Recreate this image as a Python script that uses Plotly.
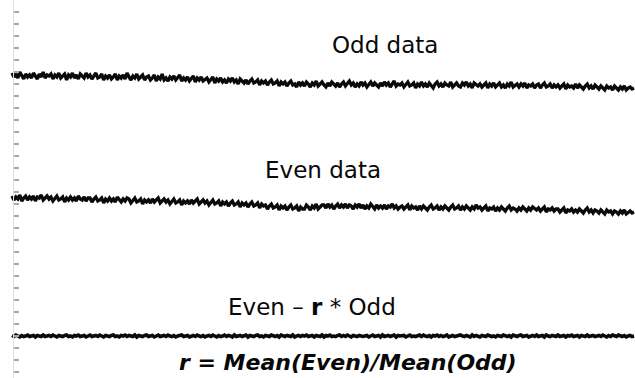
import plotly.graph_objects as go

# Signal traces (arbitrary units), sample index along x
odd_data = [
    263, 259, 262, 258, 264, 260, 257, 262, 259, 261,
    258, 263, 260, 257, 262, 259, 264, 258, 261, 260,
    262, 257, 261, 259, 263, 258, 260, 262, 256, 261,
    259, 263, 258, 261, 257, 262, 260, 258, 263, 259,
    261, 257, 260, 263, 258, 259, 262, 256, 260, 258,
    261, 257, 259, 262, 256, 260, 258, 261, 257, 263,
    259, 256, 260, 258, 262, 257, 259, 261, 256, 259,
    260, 256, 258, 261, 255, 259, 257, 262, 256, 258,
    255, 259, 257, 260, 256, 258, 261, 255, 258, 256,
    259, 255, 257, 260, 254, 258, 256, 259, 255, 257,
    258, 254, 256, 259, 253, 257, 255, 258, 254, 256,
    253, 257, 255, 258, 254, 256, 252, 257, 255, 253,
    256, 252, 255, 257, 253, 254, 256, 251, 255, 253,
    255, 251, 254, 256, 252, 253, 255, 250, 254, 252,
    254, 250, 253, 255, 251, 252, 249, 254, 251, 253,
    250, 254, 252, 249, 253, 251, 255, 250, 252, 254,
    251, 249, 253, 250, 254, 252, 250, 253, 249, 252,
    254, 250, 252, 255, 251, 253, 249, 252, 250, 254,
    251, 253, 249, 252, 254, 250, 253, 251, 249, 253,
    250, 254, 251, 253, 249, 252, 255, 250, 252, 251,
    253, 249, 252, 254, 250, 251, 253, 248, 252, 250,
    254, 250, 252, 249, 253, 251, 248, 252, 254, 250,
    252, 249, 253, 251, 250, 254, 249, 251, 253, 250,
    249, 253, 251, 254, 250, 252, 248, 253, 251, 250,
    252, 249, 251, 253, 248, 252, 250, 253, 249, 251,
    253, 249, 251, 248, 252, 250, 254, 249, 251, 252,
    249, 252, 250, 253, 248, 251, 250, 252, 248, 251,
    252, 248, 251, 253, 249, 250, 252, 248, 251, 249,
    251, 248, 250, 252, 247, 251, 249, 250, 248, 252,
    248, 251, 249, 247, 250, 252, 248, 250, 247, 251,
    249, 247, 250, 248, 246, 250, 248, 249, 246, 250,
    248, 246, 249, 247, 250, 246, 248, 249, 247, 248,
]

even_data = [
    140, 136, 139, 137, 141, 135, 138, 140, 136, 139,
    137, 140, 135, 139, 138, 141, 136, 138, 140, 137,
    139, 135, 138, 140, 136, 137, 139, 134, 138, 136,
    139, 136, 138, 135, 140, 137, 136, 139, 135, 138,
    138, 134, 137, 139, 135, 136, 138, 133, 137, 135,
    138, 135, 137, 134, 139, 136, 134, 137, 135, 138,
    137, 133, 136, 138, 134, 135, 137, 132, 136, 134,
    136, 133, 137, 134, 136, 138, 133, 135, 137, 134,
    136, 132, 135, 137, 133, 134, 136, 131, 135, 133,
    135, 132, 136, 133, 135, 137, 132, 134, 136, 133,
    135, 131, 134, 136, 132, 133, 135, 130, 134, 132,
    134, 130, 133, 135, 131, 132, 134, 129, 133, 131,
    133, 129, 132, 134, 130, 131, 133, 128, 132, 130,
    131, 127, 130, 132, 128, 129, 131, 126, 130, 128,
    130, 126, 129, 131, 127, 128, 130, 125, 129, 127,
    127, 131, 129, 126, 130, 128, 132, 127, 129, 131,
    131, 128, 132, 129, 131, 127, 130, 132, 128, 131,
    129, 132, 128, 131, 130, 127, 131, 129, 132, 128,
    131, 127, 130, 128, 132, 129, 127, 131, 128, 130,
    128, 131, 127, 130, 129, 132, 128, 130, 127, 129,
    130, 127, 129, 131, 126, 130, 128, 129, 126, 130,
    127, 130, 128, 126, 129, 131, 127, 128, 130, 126,
    129, 127, 130, 128, 126, 129, 131, 127, 128, 130,
    126, 129, 127, 130, 128, 126, 129, 127, 131, 128,
    129, 126, 128, 130, 125, 128, 127, 129, 125, 128,
    126, 129, 127, 125, 128, 130, 126, 128, 127, 125,
    128, 126, 129, 127, 125, 128, 126, 129, 127, 126,
    128, 125, 127, 129, 124, 127, 126, 128, 125, 127,
    127, 124, 126, 128, 123, 126, 125, 127, 124, 126,
    124, 127, 125, 123, 126, 128, 124, 126, 123, 126,
    125, 123, 126, 124, 122, 126, 124, 125, 122, 125,
    124, 122, 125, 123, 126, 122, 124, 125, 123, 124,
]

difference = [
    0.5, -0.5, 1, 0, -1, 0.5, -0.5, 0, 1, -0.5,
    0, 0.5, -1, 0.5, 0, -0.5, 1, -0.5, 0, 0.5,
    -0.5, 1, 0, -1, 0.5, 0, -0.5, 0.5, 1, -0.5,
    0, -1, 0.5, 0, 1, -0.5, 0, 0.5, -1, 0.5,
    1, -0.5, 0, 0.5, -0.5, 1, 0, -1, 0.5, 0,
    -0.5, 0.5, 1, -0.5, 0, -1, 0.5, 0, 1, -0.5,
    0.5, 0, -0.5, 1, -1, 0.5, 0, -0.5, 0.5, 1,
    -0.5, 0, 0.5, -1, 0.5, 1, -0.5, 0, 0.5, -0.5,
    1, 0, -0.5, 0.5, -1, 0, 0.5, 1, -0.5, 0,
    0.5, -1, 0, 0.5, -0.5, 1, 0, -0.5, 0.5, -1,
    0, 0.5, -0.5, 1, 0, -1, 0.5, -0.5, 0, 1,
    -0.5, 0.5, 0, -1, 1, -0.5, 0, 0.5, -0.5, 0,
    1, -1, 0.5, 0, -0.5, 0.5, 1, -0.5, 0, -1,
    0.5, 0, -0.5, 1, 0, -0.5, 0.5, -1, 1, 0,
    -0.5, 0.5, 0, -0.5, 1, -1, 0, 0.5, -0.5, 0.5,
    0, 1, -0.5, 0, 0.5, -1, 0.5, 0, -0.5, 1,
    -1, 0.5, 0, 1, -0.5, 0, -0.5, 0.5, 1, -0.5,
    0.5, -0.5, 1, 0, -1, 0.5, 0, -0.5, 0.5, 0,
    -0.5, 0, 0.5, -1, 0.5, 1, -0.5, 0, 0.5, -1,
    1, -0.5, 0, 0.5, -0.5, 0, 1, -1, 0.5, 0,
    0, 0.5, -1, 0.5, 1, -0.5, 0, -0.5, 0.5, 1,
    -0.5, 1, 0, -0.5, 0.5, -1, 0.5, 0, 1, -0.5,
    0.5, -0.5, 0, 1, -1, 0, 0.5, -0.5, 0, 0.5,
    1, 0, -0.5, 0.5, 0, -1, 1, -0.5, 0.5, 0,
    -1, 0.5, 0, -0.5, 1, 0.5, -0.5, 0, -1, 0.5,
    0, -0.5, 1, 0, -0.5, 0.5, -1, 1, 0, -0.5,
    0.5, 1, -0.5, 0, 0.5, -1, 0, 0.5, -0.5, 1,
    -0.5, 0, 0.5, -1, 1, 0, -0.5, 0.5, 0, -0.5,
    1, -0.5, 0, 0.5, -1, 0.5, 0, 1, -0.5, 0,
    0.5, -1, 0.5, 0, -0.5, 1, -0.5, 0, 0.5, -0.5,
    0, 0.5, -0.5, 1, 0, -1, 0.5, -0.5, 1, 0,
    -0.5, 1, 0, -0.5, 0.5, -1, 0, 0.5, -0.5, 0,
]

sample = list(range(len(odd_data)))

labels = ["Odd data", "Even data", "Even – <b>r</b> * Odd",
          "<b><i>r = Mean(Even)/Mean(Odd)</i></b>"]

fig = go.Figure()
for series, w in ((odd_data, 3.3), (even_data, 3.3), (difference, 3.6)):
    fig.add_trace(go.Scatter(
        x=sample, y=series, mode="lines",
        line=dict(color="#0a0a0a", width=w),
        showlegend=False, hoverinfo="skip",
    ))

font = dict(family="DejaVu Sans", size=23, color="#080808")
common = dict(xref="paper", yref="paper", showarrow=False,
              xanchor="center", yanchor="middle")
fig.add_annotation(text=labels[0], x=0.606, y=0.881, font=font, **common)
fig.add_annotation(text=labels[1], x=0.509, y=0.550, font=font, **common)
fig.add_annotation(text=labels[2], x=0.491, y=0.188, font=font, **common)
fig.add_annotation(text=labels[3], x=0.548, y=0.042,
                   font=dict(family="DejaVu Sans", size=22, color="#080808"), **common)

fig.update_layout(
    width=635, height=378,
    margin=dict(l=0, r=0, t=0, b=0),
    paper_bgcolor="white", plot_bgcolor="white",
    xaxis=dict(range=[-6.15, 319.5], visible=False),
    yaxis=dict(
        range=[-42, 336], showgrid=False, zeroline=False,
        showticklabels=False, showline=True, linecolor="#e2e2e2", linewidth=1,
        ticks="inside", ticklen=5, tickwidth=2, tickcolor="#a8a8a8", dtick=12,
        anchor="free", position=0.02,
    ),
)

fig.write_html("out.html")
